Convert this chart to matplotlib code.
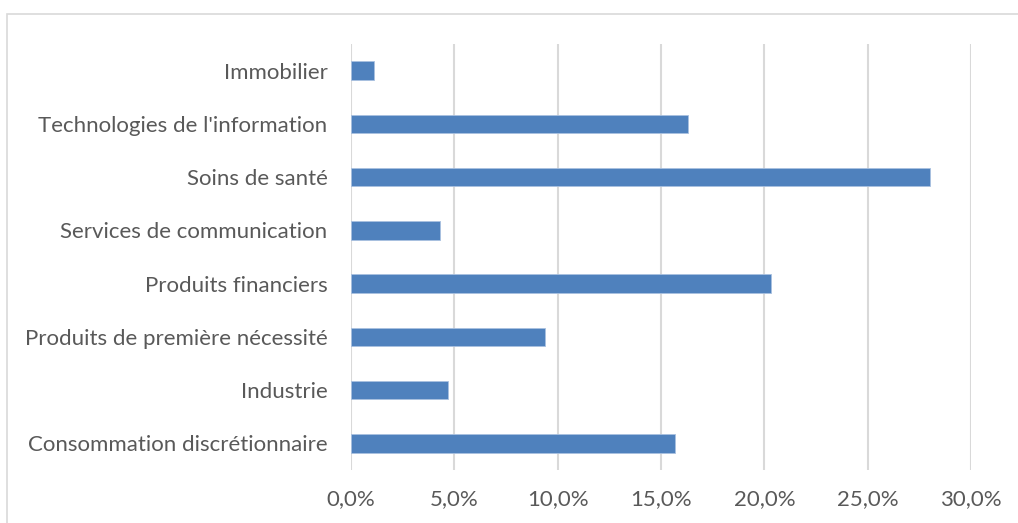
import matplotlib
matplotlib.use("Agg")
import matplotlib.pyplot as plt
from matplotlib.ticker import FuncFormatter, MultipleLocator
from matplotlib.patches import Rectangle

categories = ["Consommation discrétionnaire", "Industrie", "Produits de première nécessité",
              "Produits financiers", "Services de communication", "Soins de santé",
              "Technologies de l'information", "Immobilier"]
values = [15.7, 4.7, 9.4, 20.3, 4.3, 28.0, 16.3, 1.1]

plt.rcParams['font.family'] = ['Lato', 'DejaVu Sans']
fig = plt.figure(figsize=(10.18, 5.23), dpi=100)
ax = fig.add_axes([351/1018, 53/523, 620/1018, 426/523])

ax.barh(range(len(categories)), values, height=0.35, color="#4f81bd",
        edgecolor="#a9c1e0", linewidth=0.6, zorder=3)
ax.set_yticks(range(len(categories)))
ax.set_yticklabels(categories)
ax.set_ylim(-0.5, len(categories) - 0.5)
ax.set_xlim(0, 30)
ax.xaxis.set_major_locator(MultipleLocator(5))
ax.xaxis.set_major_formatter(FuncFormatter(lambda v, p: f"{v:.1f}%".replace(".", ",")))
ax.grid(axis="x", color="#d9d9d9", linewidth=1.5, zorder=0)
ax.grid(axis="y", visible=False)
for s in ax.spines.values():
    s.set_visible(False)
ax.tick_params(axis="both", length=0, colors="#595959", labelsize=16)
ax.tick_params(axis="x", pad=14)
ax.tick_params(axis="y", pad=17)

fig.patches.append(Rectangle((7/1018, -0.05), 1.1, (523-14)/523 + 0.05,
                             transform=fig.transFigure, fill=False,
                             edgecolor="#d9d9d9", linewidth=1.2))

fig.savefig("out.png", dpi=100)
